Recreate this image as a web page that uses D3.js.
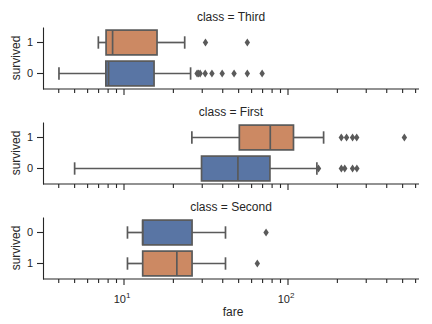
<!doctype html>
<html lang="en">
  <head>
    <meta charset="utf-8">
    <title>Fare by survival, faceted by class</title>
    <script src="https://d3js.org/d3.v7.min.js"></script>
    <style>
    body { margin: 0; background: #fff; }
    text {
      font-family: Arial, "Liberation Sans", sans-serif;
      fill: #262626;
    }
    .axis path, .axis line { stroke: #262626; stroke-width: 1.1; }
    .axis text { font-size: 11px; }
    </style>
  </head>

  <body>
    <svg width="432" height="324"></svg>

    <script>
      // facets, top to bottom, and the order of the survived rows in each
      var classes = ['Third', 'First', 'Second'];
      var rowOrder = [['1', '0'], ['1', '0'], ['0', '1']];

      // box stats per class, indexed [survived 0, survived 1]
      var whiskLo = [[4.0125, 6.975], [5.0, 25.93], [10.5, 10.5]];
      var q1      = [[7.75, 7.775],   [29.7, 50.5], [13.0, 13.0]];
      var median  = [[8.05, 8.52],    [49.5, 77.96], [13.0, 21.0]];
      var q3      = [[15.25, 15.9],   [77.6, 108.0], [26.0, 26.0]];
      var whiskHi = [[25.47, 23.45],  [150.0, 164.87], [41.58, 41.58]];

      var fliers = [
        [[27.9, 28.5, 29.125, 31.275, 34.375, 39.69, 46.9, 56.5, 69.55], [31.39, 56.5]],
        [[153.46, 211.5, 221.78, 247.52, 263.0], [211.34, 227.53, 247.52, 262.38, 512.33]],
        [[73.5], [65.0]]
      ];

      var fillColor = { '0': '#5975a4', '1': '#cc8963' };
      var lineColor = '#5a5a5a';

      var svg = d3.select('svg');

      var x = d3.scaleLog()
        .domain([3.207, 629.2])
        .range([43, 419]);

      var majorTicks = [10, 100];
      var minorTicks = [4, 5, 6, 7, 8, 9, 20, 30, 40, 50, 60, 70, 80, 90, 200, 300, 400, 500, 600];

      var panelTop = [27, 122, 217];
      var panelH = 62;

      classes.forEach(function(cls, p){
        var g = svg.append('g').attr('transform', 'translate(0,' + panelTop[p] + ')');

        var y = d3.scaleBand()
          .domain(rowOrder[p])
          .range([0, panelH])
          .padding(0);

        var boxH = y.bandwidth() * 0.8;
        var capH = boxH * 0.5;

        rowOrder[p].forEach(function(s){
          var i = +s;
          var cy = y(s) + y.bandwidth() / 2;
          var row = g.append('g');

          // whiskers
          row.append('line')
            .attr('x1', x(whiskLo[p][i])).attr('x2', x(q1[p][i]))
            .attr('y1', cy).attr('y2', cy);
          row.append('line')
            .attr('x1', x(q3[p][i])).attr('x2', x(whiskHi[p][i]))
            .attr('y1', cy).attr('y2', cy);
          [whiskLo[p][i], whiskHi[p][i]].forEach(function(v){
            row.append('line')
              .attr('x1', x(v)).attr('x2', x(v))
              .attr('y1', cy - capH / 2).attr('y2', cy + capH / 2);
          });

          // box
          row.append('rect')
            .attr('x', x(q1[p][i]))
            .attr('y', cy - boxH / 2)
            .attr('width', x(q3[p][i]) - x(q1[p][i]))
            .attr('height', boxH)
            .attr('fill', fillColor[s]);

          row.append('line')
            .attr('x1', x(median[p][i])).attr('x2', x(median[p][i]))
            .attr('y1', cy - boxH / 2).attr('y2', cy + boxH / 2);

          row.selectAll('line, rect')
            .attr('stroke', lineColor)
            .attr('stroke-width', 1.7);

          // outliers as thin diamonds
          row.selectAll('path.flier')
            .data(fliers[p][i])
            .enter()
            .append('path')
              .attr('class', 'flier')
              .attr('d', function(d){
                var px = x(d);
                return 'M' + px + ',' + (cy - 4) + 'L' + (px + 2.7) + ',' + cy +
                  'L' + px + ',' + (cy + 4) + 'L' + (px - 2.7) + ',' + cy + 'Z';
              })
              .attr('fill', lineColor);
        });

        // y axis
        g.append('g')
          .attr('class', 'axis')
          .attr('transform', 'translate(43,0)')
          .call(d3.axisLeft(y).tickSize(6).tickPadding(4).tickSizeOuter(0));

        // x axis, labels only on the bottom facet
        var xg = g.append('g')
          .attr('class', 'axis')
          .attr('transform', 'translate(0,' + panelH + ')');
        xg.append('line')
          .attr('x1', 43).attr('x2', 419)
          .attr('y1', 0).attr('y2', 0);
        xg.selectAll('line.major')
          .data(majorTicks)
          .enter()
          .append('line')
            .attr('x1', x).attr('x2', x)
            .attr('y1', 0).attr('y2', 6);
        xg.selectAll('line.minor')
          .data(minorTicks)
          .enter()
          .append('line')
            .attr('x1', x).attr('x2', x)
            .attr('y1', 0).attr('y2', 4);

        if (p === classes.length - 1) {
          var lab = xg.selectAll('text.tick')
            .data(majorTicks)
            .enter()
            .append('text')
              .attr('x', function(d){ return x(d) - 2; })
              .attr('y', 23.5)
              .attr('text-anchor', 'middle')
              .style('font-size', '11px');
          lab.append('tspan').text('10');
          lab.append('tspan')
            .attr('dy', -5)
            .style('font-size', '8px')
            .text(function(d){ return Math.round(Math.log10(d)); });

          svg.append('text')
            .attr('x', 233)
            .attr('y', 316)
            .attr('text-anchor', 'middle')
            .style('font-size', '12px')
            .text('fare');
        }

        g.append('text')
          .attr('transform', 'translate(20,' + (panelH / 2) + ') rotate(-90)')
          .attr('text-anchor', 'middle')
          .style('font-size', '12px')
          .text('survived');

        g.append('text')
          .attr('x', 231)
          .attr('y', -6.5)
          .attr('text-anchor', 'middle')
          .style('font-size', '12px')
          .text('class = ' + cls);
      });
    </script>
  </body>
</html>
